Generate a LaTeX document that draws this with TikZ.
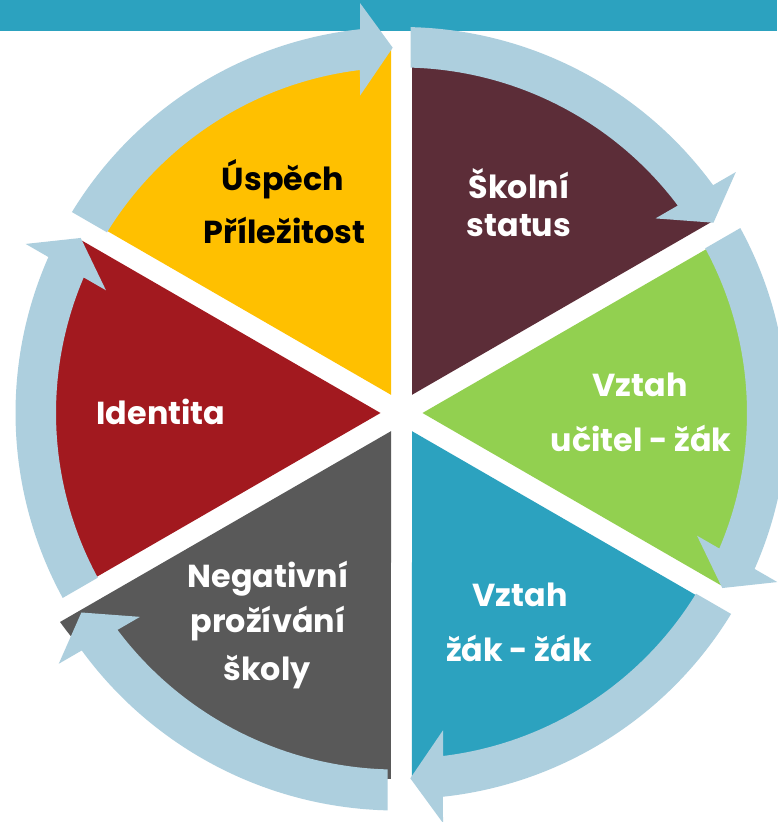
\documentclass[tikz,border=0pt]{standalone}
\usepackage{fontspec}
\setmainfont{Poppins}
\definecolor{barc}{HTML}{2CA2BF}
\definecolor{yellowc}{HTML}{FFC000}
\definecolor{maroonc}{HTML}{5C2D38}
\definecolor{greenc}{HTML}{92D050}
\definecolor{tealc}{HTML}{2CA2BF}
\definecolor{grayc}{HTML}{595959}
\definecolor{redc}{HTML}{A2191F}
\definecolor{ringc}{HTML}{ADCFDE}
\tikzset{
  lbl/.style={font=\fontsize{31.8}{32}\selectfont\bfseries, inner sep=0pt, anchor=base, text=white},
  ringarrow/.pic={
    \fill[ringc] (148.63:386) arc[start angle=148.63, end angle=96.17, radius=386]
      -- (-41.5,410) -- (-8.8,365.3) -- (-41.5,317.3) -- (96.9:345.5)
      arc[start angle=96.9, end angle=148.47, radius=345.5] -- cycle;
  },
  wedge/.pic={
    \fill (120:21) -- (91.648:365) arc[start angle=91.648, end angle=148.352, radius=365] -- cycle;
  }
}
\begin{document}
\begin{tikzpicture}[x=1pt,y=1pt]
\useasboundingbox (0,0) rectangle (777,822);
\fill[white] (0,0) rectangle (777,822);
% top bar
\fill[barc] (0,791.3) rectangle (777,822);
% wedges
\pic[yellowc] at (401.5,409) {wedge};
\pic[maroonc, rotate=-60] at (401.5,409) {wedge};
\pic[greenc, rotate=-120] at (401.5,409) {wedge};
\pic[tealc, rotate=180] at (401.5,409) {wedge};
\pic[redc, rotate=60] at (401.5,409) {wedge};
\begin{scope}[shift={(397,402)}]
  \fill[grayc] (-6,-11.19) -- (-337,-202)
    -- plot[domain=210.94:269.04, samples=40] (\x:{392.9-(\x-210.94)*0.5862}) -- cycle;
\end{scope}
% ring arrows
\pic at (401.5,409) {ringarrow};
\pic[rotate=-60] at (401.5,409) {ringarrow};
\pic[rotate=-120] at (401.5,409) {ringarrow};
\pic[rotate=180] at (401.5,409) {ringarrow};
\pic[rotate=60] at (401.5,409) {ringarrow};
\pic[rotate=120, scale=1.0117] at (397,402) {ringarrow};
% labels
\node[lbl, text=black] (t1a) at (283,631) {Úspěch};
\node[lbl, text=black] (t1b) at (284.5,578) {Příležitost};
\node[lbl] (t2a) at (519,623) {Školní};
\node[lbl] (t2b) at (519,585) {status};
\node[lbl] (t3a) at (640,425) {Vztah};
\node[lbl] (t3b) at (641,370) {učitel - žák};
\node[lbl] (t4a) at (520,215) {Vztah};
\node[lbl] (t4b) at (519,160) {žák - žák};
\node[lbl] (t5a) at (268,234) {Negativní};
\node[lbl] (t5b) at (268,189) {prožívání};
\node[lbl] (t5c) at (267,141) {školy};
\node[lbl] (t6a) at (161,397) {Identita};
\end{tikzpicture}
\end{document}
